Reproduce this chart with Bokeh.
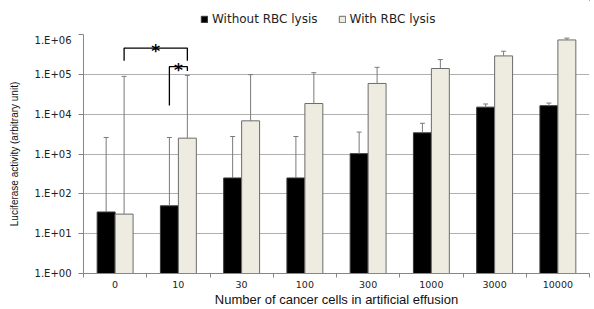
from bokeh.plotting import figure
from bokeh.layouts import column
from bokeh.models import (ColumnDataSource, FixedTicker, Whisker, TeeHead,
                          Legend, LegendItem, Range1d)
from bokeh.core.properties import value
from bokeh.embed import file_html
from bokeh.resources import INLINE

# ---- data ----
categories = ["0", "10", "30", "100", "300", "1000", "3000", "10000"]
series_names = ["Without RBC lysis", "With RBC lysis"]
without_lysis = [35, 50, 250, 250, 1020, 3400, 15000, 16300]
without_lysis_err = [2600, 2600, 2750, 2750, 3550, 5900, 18000, 19000]
with_lysis = [31, 2500, 6800, 18500, 59000, 140000, 290000, 730000]
with_lysis_err = [89000, 94000, 98000, 110000, 150000, 235000, 380000, 810000]
y_ticks = [1, 10, 100, 1000, 10000, 100000, 1000000]
y_tick_labels = ["1.E+00", "1.E+01", "1.E+02", "1.E+03", "1.E+04", "1.E+05", "1.E+06"]

# significance brackets: (category index, series) for each end
bracket_left = [(0, "with"), (1, "without")]
bracket_right = [(1, "with"), (1, "with")]
bracket_top = [457000, 156000]
bracket_left_end = [218000, 16600]
bracket_right_end = [218000, 121000]
bracket_label = ["*", "*"]

# ---- styles ----
FILL = {"without": "black", "with": "#EEECE1"}
EDGE = {"without": "#3a3a3a", "with": "#6b6b6b"}

BW = 0.284
OFF = {"without": -BW / 2, "with": BW / 2}
n = len(categories)
x_without = [i + 0.5 + OFF["without"] for i in range(n)]
x_with = [i + 0.5 + OFF["with"] for i in range(n)]

p = figure(width=594, height=275, output_backend="svg", toolbar_location=None,
           y_axis_type="log", x_range=Range1d(0, n), y_range=Range1d(1, 1e6),
           min_border_left=83, min_border_right=5, min_border_top=0,
           min_border_bottom=0)
p.outline_line_color = None
p.background_fill_color = "white"
p.border_fill_color = "white"

src_wo = ColumnDataSource(dict(x=x_without, top=without_lysis, err=without_lysis_err))
src_wi = ColumnDataSource(dict(x=x_with, top=with_lysis, err=with_lysis_err))

p.vbar(x="x", top="top", bottom=1, width=BW, source=src_wo,
       fill_color=FILL["without"], line_color=EDGE["without"], line_width=1)
p.vbar(x="x", top="top", bottom=1, width=BW, source=src_wi,
       fill_color=FILL["with"], line_color=EDGE["with"], line_width=1)

for src in (src_wo, src_wi):
    w = Whisker(base="x", lower="top", upper="err", source=src, dimension="height",
                line_color="#7a7a7a", line_width=1, lower_head=None,
                upper_head=TeeHead(size=5, line_color="#7a7a7a", line_width=1),
                level="overlay")
    p.add_layout(w)

# brackets
def xpos(ref):
    i, s = ref
    return i + 0.5 + OFF[s]

bxs, bys, sx, sy = [], [], [], []
for k in range(len(bracket_top)):
    xl, xr = xpos(bracket_left[k]), xpos(bracket_right[k])
    bxs.append([xl, xl, xr, xr])
    bys.append([bracket_left_end[k], bracket_top[k], bracket_top[k], bracket_right_end[k]])
    sx.append((xl + xr) / 2)
    sy.append(bracket_top[k])
p.multi_line(xs=bxs, ys=bys, line_color="black", line_width=1.3)
p.text(x=sx, y=sy, text=bracket_label, text_font=value("DejaVu Sans"),
       text_font_style="bold", text_font_size="17px", text_align="center",
       text_baseline="middle", y_offset=3, text_color="black")

# axes
xa = p.xaxis[0]
xa.ticker = FixedTicker(ticks=[i + 0.5 for i in range(n)], minor_ticks=list(range(n + 1)))
xa.major_label_overrides = {i + 0.5: c for i, c in enumerate(categories)}
xa.major_tick_out = 0
xa.major_tick_in = 0
xa.minor_tick_out = 4
xa.minor_tick_in = 0
xa.minor_tick_line_color = "#868686"
xa.axis_line_color = "#868686"
xa.major_label_text_font = "DejaVu Sans"
xa.major_label_text_font_size = "9.5px"
xa.major_label_text_color = "#222222"
xa.major_label_standoff = 3
xa.axis_label = "Number of cancer cells in artificial effusion"
xa.axis_label_text_font = "Liberation Sans"
xa.axis_label_text_font_style = "normal"
xa.axis_label_text_font_size = "13px"
xa.axis_label_text_color = "#111111"
xa.axis_label_standoff = 1

ya = p.yaxis[0]
ya.ticker = FixedTicker(ticks=y_ticks)
ya.major_label_overrides = {t: l for t, l in zip(y_ticks, y_tick_labels)}
ya.major_tick_out = 5
ya.major_tick_in = 0
ya.minor_tick_out = 0
ya.minor_tick_in = 0
ya.major_tick_line_color = "#868686"
ya.axis_line_color = "#868686"
ya.major_label_text_font = "DejaVu Sans"
ya.major_label_text_font_size = "10px"
ya.major_label_text_color = "#222222"
ya.major_label_standoff = 7
ya.axis_label = "Luciferase activity (arbitrary unit)"
ya.axis_label_text_font = "Liberation Sans"
ya.axis_label_text_font_style = "normal"
ya.axis_label_text_font_size = "10px"
ya.axis_label_text_color = "#111111"
ya.axis_label_standoff = 12

p.xgrid.grid_line_color = None
p.ygrid.grid_line_color = "#B0B0B0"
p.ygrid.ticker = FixedTicker(ticks=y_ticks)

# ---- legend strip above the plot (frames are aligned with the main plot) ----
lf = figure(width=594, height=34, output_backend="svg", toolbar_location=None,
            x_range=Range1d(0, 1), y_range=Range1d(0, 1), min_border=0)
lf.axis.visible = False
lf.grid.visible = False
lf.outline_line_color = None
# proxy renderers (kept outside the visible range) that give the legend its swatches
lr_wo = lf.vbar(x=[5], top=[5], bottom=[4], width=0.1,
                fill_color=FILL["without"], line_color=EDGE["without"])
lr_wi = lf.vbar(x=[5], top=[5], bottom=[4], width=0.1,
                fill_color=FILL["with"], line_color=EDGE["with"])
legend = Legend(items=[LegendItem(label=series_names[0], renderers=[lr_wo]),
                       LegendItem(label=series_names[1], renderers=[lr_wi])],
                orientation="horizontal", location=(117, 8),
                glyph_width=8, glyph_height=8, label_height=14,
                label_text_font="DejaVu Sans", label_text_font_size="12px",
                label_text_color="#222222", label_standoff=4, spacing=20,
                padding=0, margin=0, border_line_color=None,
                background_fill_alpha=0)
lf.add_layout(legend)

layout = column(lf, p, spacing=0)
open("out.html", "w").write(file_html(layout, INLINE))
